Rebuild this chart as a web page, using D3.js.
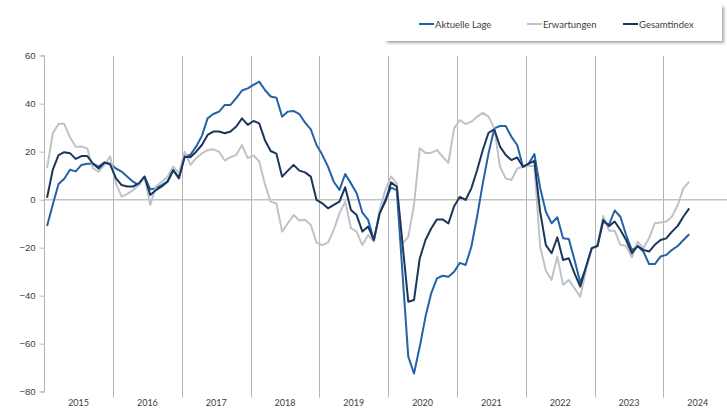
<!DOCTYPE html>
<html><head><meta charset="utf-8">
<script src="https://cdn.jsdelivr.net/npm/d3@7"></script>
<style>
html,body{margin:0;padding:0;background:#fff;}
svg{display:block;font-family:"Lato","Open Sans",sans-serif;}
</style></head>
<body>
<svg id="chart" width="727" height="409"></svg>
<script>
const years = [2015,2016,2017,2018,2019,2020,2021,2022,2023,2024];
const yTicks = [60,40,20,0,-20,-40,-60,-80];
const seriesNames = ["Aktuelle Lage","Erwartungen","Gesamtindex"];
const seriesColors = ["#2462a8","#c0c3c6","#1b355c"];

// monthly values, Jan 2015 – May 2024
const aktuelleLage = [
-11,-2,6.5,8.7,12.5,11.8,14.5,15,15,13.8,15.5,15,
13,11.7,9.6,7.5,6.1,9.6,4.3,4.8,6.1,7.5,12.1,9.3,
18,18.7,22.1,26.6,33.9,35.7,36.7,39.5,39.5,42.3,45.5,46.4,
47.8,49.2,45.7,43,42.5,34.6,36.7,37,35.7,32.1,29.3,22.8,
18.7,13.8,7.5,4.1,10.7,6.8,2.7,-5.4,-8.4,-16.8,-5.7,-0.1,
5,4,-31,-65.4,-72.4,-61.3,-48.8,-39,-32.8,-31.7,-32.1,-30,
-26.3,-27.2,-19.6,-7.1,6.8,19.3,29.7,30.7,30.7,26.2,22.8,13.7,
15,19,5,-5,-9.8,-7.3,-16.1,-16.4,-25.1,-34.5,-28.6,-20.2,
-19.3,-9.1,-10.5,-4.5,-7.1,-14.7,-21,-19.3,-21.6,-26.8,-26.8,-23.7,
-23,-20.9,-19.3,-16.8,-14.4];
const erwartungen = [
13.1,27.7,31.6,31.6,26,22.1,22.1,21.4,13.1,11.7,14.5,18,
6.8,1.3,2.4,4,6.1,9.6,-2.2,5.5,7.5,9.6,13.8,11,
20,14.5,17.3,19.3,20.7,21,20,16.3,17.7,18.7,22.8,17.3,
18.5,15.9,6.5,-0.8,-1.6,-13.3,-9.8,-6.4,-8.7,-8.4,-10.5,-17.9,
-18.9,-17.9,-12.6,-5.7,-0.8,-11.9,-13.3,-18.9,-14.7,-17.5,-4.3,4,
9.7,6.8,-18.2,-15.5,-2.2,21.4,19.5,19.5,20.7,17.9,15.4,29.7,
33.2,31.5,32.5,34.6,36.2,34.6,29.7,13.7,8.9,8.2,13,13.7,
14,14,-19.5,-29.6,-33.4,-23.7,-35.5,-33.4,-36.9,-40.4,-29.3,-20.2,
-19.3,-6.8,-12.9,-12.9,-18.8,-19.3,-24,-17.5,-20.2,-16,-9.8,-9.5,
-9.1,-7,-2.2,4.8,7.5];
const gesamtindex = [
0.8,12.5,18.6,19.8,19.4,17,18.2,18.2,15,13,15.5,14.7,
9,6.1,5.5,5.5,6.8,9.6,2,4,5.5,7.5,12.4,8.9,
17.9,17.7,20,22.8,27,28.4,28.4,27.7,28.4,30.5,33.9,31.2,
32.8,31.8,24.8,20.3,19.2,9.6,12.1,14.5,12.1,11.4,9.6,-0.1,
-1.5,-3.6,-2.2,-0.8,5.2,-4.3,-6.4,-13.3,-11.2,-16.8,-5.7,-0.8,
7.2,5.4,-18.5,-42.5,-41.8,-24.5,-16.8,-12,-8.2,-8.2,-9.9,-2.7,
1.2,-0.1,4.7,12.3,20.7,27.9,29.3,22.1,18.6,16.5,17.6,13.7,
15,16.2,-5,-18.9,-22.3,-15.7,-25.1,-24.4,-30.7,-36.2,-27.9,-20.2,
-19.3,-8.4,-11,-9.1,-12.6,-16.8,-22.3,-19.3,-20.9,-21.6,-18.8,-16.8,
-16.1,-13.3,-10.9,-7,-3.6];
const seriesData = [aktuelleLage, erwartungen, gesamtindex];

const svg = d3.select("#chart");
const totalMonths = years.length * 12;
const x = d3.scaleLinear().domain([0, totalMonths]).range([44.2, 732.2]);
const y = d3.scaleLinear().domain([-80, 60]).range([391.7, 55.7]);

// year dividers
svg.append("g").selectAll("line").data(years.slice(1)).join("line")
  .attr("x1", (d,i) => Math.round(x((i+1)*12))+0.5)
  .attr("x2", (d,i) => Math.round(x((i+1)*12))+0.5)
  .attr("y1", y(60)).attr("y2", y(-80)+6)
  .attr("stroke", "#b4b4b4").attr("stroke-width", 1);

// zero line
svg.append("line")
  .attr("x1", x(0)).attr("x2", 727)
  .attr("y1", y(0)).attr("y2", y(0))
  .attr("stroke", "#c4c4c4").attr("stroke-width", 1.5);

// left axis
const yAxis = d3.axisLeft(y).tickValues(yTicks).tickSize(4).tickPadding(5).tickFormat(d3.format("d"));
const ga = svg.append("g").attr("transform", `translate(${Math.round(x(0))+0.5},0)`).call(yAxis);
ga.select(".domain").attr("stroke", "#b4b4b4").attr("d", `M-4,${y(60)}H0V${y(-80)}H-4`);
ga.selectAll(".tick line").attr("stroke", "#b4b4b4");
ga.selectAll(".tick text").attr("fill", "#404040").style("font-size", "9.5px");

// year labels
svg.append("g").selectAll("text").data(years).join("text")
  .attr("x", (d,i) => x(i*12 + 6))
  .attr("y", 406)
  .attr("text-anchor", "middle")
  .attr("fill", "#404040")
  .style("font-size", "9px")
  .text(d => d);

// lines
const line = d3.line().x((d,i) => x(i + 0.5)).y(d => y(d));
svg.append("g").selectAll("path").data(seriesData).join("path")
  .attr("d", d => line(d))
  .attr("fill", "none")
  .attr("stroke", (d,i) => seriesColors[i])
  .attr("stroke-width", 2)
  .attr("stroke-linejoin", "round");

// legend
const defs = svg.append("defs");
const f = defs.append("filter").attr("id","sh").attr("x","-5%").attr("y","-20%").attr("width","115%").attr("height","160%");
f.append("feDropShadow").attr("dx",2).attr("dy",2).attr("stdDeviation",1.5).attr("flood-color","#000").attr("flood-opacity",0.35);
const lg = svg.append("g");
lg.append("rect").attr("x", 385).attr("y", 5).attr("width", 337).attr("height", 36)
  .attr("fill", "#fff").attr("filter", "url(#sh)");
const legendX = [419, 527, 623];
const li = lg.selectAll("g.item").data(seriesNames).join("g").attr("class","item")
  .attr("transform", (d,i) => `translate(${legendX[i]},24)`);
li.append("line").attr("x1",0).attr("x2",15).attr("y1",0).attr("y2",0)
  .attr("stroke", (d,i) => seriesColors[i]).attr("stroke-width", 2);
li.append("text").attr("x", 16).attr("y", 3.5).attr("fill", "#404040")
  .style("font-size", "9.5px").text(d => d);
</script>
</body></html>
